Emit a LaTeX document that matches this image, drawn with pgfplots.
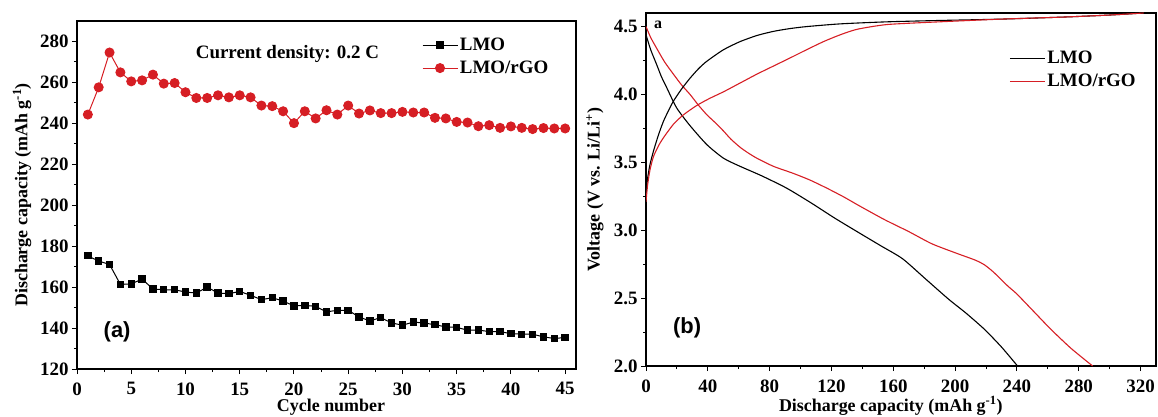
\documentclass[border=0pt]{standalone}
\usepackage{pgfplots}
\pgfplotsset{compat=1.18}
\usepackage{fontspec}
\setmainfont{Liberation Serif}
\newfontfamily\arialfont{Liberation Sans}
\definecolor{myred}{RGB}{214,30,36}
\begin{document}
\begin{tikzpicture}[x=1bp,y=1bp]
\path[use as bounding box] (0,0) rectangle (1158,416);
\pgfplotsset{common/.style={scale only axis,
  axis line style={line width=1.3bp},
  tick style={line width=1bp, black},
  tick align=outside, xtick pos=bottom, ytick pos=left,
  major tick length=5bp, minor tick length=3bp,
  tick label style={font=\fontsize{19}{19}\selectfont\bfseries},
  xticklabel style={yshift=-5bp},
  label style={font=\fontsize{18}{18}\selectfont\bfseries},
  /pgf/number format/assume math mode=true,
  legend style={draw=none, fill=none, font=\fontsize{19}{19}\selectfont\bfseries, row sep=5bp},
  legend cell align=left,
  legend image code/.code={\draw[mark repeat=2,mark phase=2,##1] plot coordinates {(0bp,0bp) (17.5bp,0bp) (35bp,0bp)};},
}}
\begin{axis}[common, at={(77bp,47bp)}, anchor=south west, width=499bp, height=348bp,
  xmin=0, xmax=46, ymin=120, ymax=290,
  xtick={0,5,...,45}, ytick={120,140,...,280},
  minor x tick num=1, minor y tick num=1,
  xlabel={Cycle number},
  ylabel={Discharge capacity (mAh g\textsuperscript{-1})},
  xlabel style={at={(axis description cs:0.509,-0.1207)}, anchor=base},
  ylabel style={at={(axis description cs:-0.11,0.5)}, anchor=center},
  legend style={at={(0.685,0.963)}, anchor=north west}]
\addplot[black, line width=1bp, mark=square*, mark size=3.2bp] coordinates {
(1,175.3)(2,172.7)(3,171.1)(4,161.3)(5,161.6)(6,163.9)(7,159.1)(8,158.7)(9,158.7)(10,157.6)
(11,157.1)(12,160.0)(13,157.1)(14,156.8)(15,157.9)(16,156.0)(17,153.9)(18,154.8)(19,153.2)(20,150.8)
(21,151.1)(22,150.6)(23,147.9)(24,148.7)(25,148.7)(26,145.4)(27,143.5)(28,145.1)(29,142.5)(30,141.4)
(31,142.9)(32,142.5)(33,141.6)(34,140.6)(35,140.3)(36,139.0)(37,139.0)(38,138.3)(39,138.2)(40,137.3)
(41,137.0)(42,137.0)(43,135.7)(44,134.9)(45,135.4)};
\addlegendentry{LMO}
\addplot[myred, line width=1bp, mark=*, mark size=4.5bp] coordinates {
(1,244.3)(2,257.6)(3,274.6)(4,264.9)(5,260.5)(6,261.0)(7,263.8)(8,259.4)(9,259.7)(10,255.2)
(11,252.4)(12,252.4)(13,253.7)(14,252.7)(15,253.7)(16,252.7)(17,248.7)(18,248.4)(19,245.9)(20,240.1)
(21,245.9)(22,242.4)(23,246.4)(24,244.3)(25,248.7)(26,244.8)(27,246.3)(28,245.0)(29,245.0)(30,245.6)
(31,245.3)(32,245.3)(33,242.7)(34,242.4)(35,240.7)(36,240.4)(37,238.6)(38,239.1)(39,237.8)(40,238.5)
(41,237.8)(42,237.2)(43,237.7)(44,237.5)(45,237.5)};
\addlegendentry{LMO/rGO}
\node[font=\fontsize{19}{19}\selectfont\bfseries] at (axis cs:19.4,274) {Current density: 0.2 C};
\node[font=\fontsize{22}{22}\selectfont\arialfont\bfseries] at (axis cs:3.7,138) {(a)};
\end{axis}

\begin{axis}[common, at={(646bp,50bp)}, anchor=south west, width=510bp, height=353bp,
  xmin=0, xmax=330, ymin=2.0, ymax=4.6,
  xtick={0,40,...,320}, ytick={2.0,2.5,...,4.5},
  minor x tick num=1, minor y tick num=1,
  yticklabel style={/pgf/number format/.cd, fixed, fixed zerofill, precision=1},
  xlabel={Discharge capacity (mAh g\textsuperscript{-1})},
  ylabel={Voltage (V vs. Li/Li\textsuperscript{+})},
  xlabel style={at={(axis description cs:0.48,-0.1275)}, anchor=base},
  ylabel style={at={(axis description cs:-0.10,0.5)}, anchor=center},
  legend style={at={(0.706,0.904)}, anchor=north west}]
\addplot[black, line width=1.1bp, smooth, tension=0.4] coordinates {
(0,4.44)(3,4.33)(6.9,4.22)(10,4.13)(13.4,4.05)(19.9,3.90)(28.5,3.77)(39.4,3.63)(50.2,3.53)
(61,3.47)(75,3.40)(91,3.31)(107,3.20)(122,3.09)(138,2.98)(152,2.885)(166,2.79)(181,2.64)
(196,2.49)(207,2.39)(219,2.27)(230,2.14)(240.4,2.00)};
\addlegendentry{LMO}
\addplot[myred, line width=1.1bp, smooth, tension=0.4] coordinates {
(0,4.50)(3,4.42)(6.9,4.34)(12,4.24)(17.7,4.15)(23,4.07)(28.5,4.00)(34,3.92)(39.4,3.85)
(45,3.79)(50.2,3.73)(55,3.67)(61,3.61)(66,3.57)(71.8,3.53)(82.6,3.47)(95,3.42)(106,3.37)
(117,3.31)(128,3.245)(138,3.18)(154,3.08)(170,2.99)(185,2.90)(201,2.83)(213,2.78)(219,2.745)
(225,2.69)(234,2.59)(240,2.53)(251,2.40)(262,2.27)(275,2.13)(289,2.00)};
\addlegendentry{LMO/rGO}
\addplot[black, line width=1.1bp, smooth, tension=0.4, forget plot] coordinates {
(0,3.27)(1,3.38)(2.5,3.48)(4.75,3.58)(8,3.70)(11.2,3.80)(14.5,3.88)(17.7,3.95)(23,4.04)
(28.5,4.12)(34,4.19)(39.4,4.245)(50.2,4.33)(61,4.39)(72,4.435)(82.6,4.465)(93,4.485)
(104,4.50)(125.8,4.52)(156,4.535)(190,4.545)(230,4.555)(270,4.57)(300,4.585)(322,4.60)};
\addplot[myred, line width=1.1bp, smooth, tension=0.4, forget plot] coordinates {
(0,3.21)(1,3.33)(2.5,3.44)(4.75,3.54)(8,3.62)(11.2,3.68)(17.7,3.78)(24.2,3.85)(33,3.92)
(41,3.97)(50.2,4.02)(61,4.085)(71.8,4.15)(82.6,4.21)(93.4,4.27)(104,4.33)(115,4.39)
(125.8,4.44)(136.6,4.48)(156,4.515)(190,4.535)(230,4.555)(270,4.57)(300,4.585)(322,4.60)};
\node[font=\fontsize{16}{16}\selectfont\bfseries] at (axis cs:7.8,4.51) {a};
\node[font=\fontsize{22}{22}\selectfont\arialfont\bfseries] at (axis cs:26.6,2.28) {(b)};
\end{axis}
\end{tikzpicture}
\end{document}
